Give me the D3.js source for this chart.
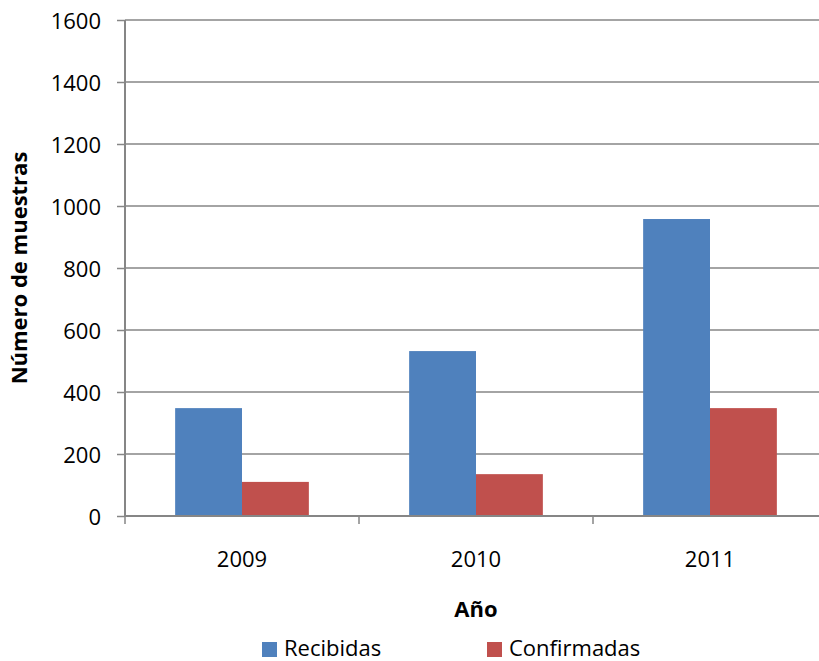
<!DOCTYPE html>
<html>
<head>
<meta charset="utf-8">
<script src="https://cdn.jsdelivr.net/npm/d3@7"></script>
<style>
  html, body { margin: 0; padding: 0; background: #fff; }
  svg { display: block; font-family: "Open Sans", "Noto Sans", sans-serif; }
</style>
</head>
<body>
<svg id="chart" width="819" height="661"></svg>
<script>
// Muestras por año
const years = ["2009", "2010", "2011"];
const recibidas = [348, 532, 958];
const confirmadas = [110, 135, 348];
const yTicks = [0, 200, 400, 600, 800, 1000, 1200, 1400, 1600];
const seriesNames = ["Recibidas", "Confirmadas"];
const seriesColors = ["#4f81bd", "#c0504d"];

const svg = d3.select("#chart");
const W = 819;
const x0 = 125, x1 = 827, yTop = 20, yBot = 516;
const fs = 22;

const x = d3.scaleBand().domain(years).range([x0, x1]).padding(0);
// gap width 150%: each bar = bandwidth / 3.5
const barW = x.bandwidth() / 3.5;
const y = d3.scaleLinear().domain([0, 1600]).range([yBot, yTop]);

const grey = "#868686";

// horizontal gridlines
svg.append("g").selectAll("line").data(yTicks.filter(d => d > 0)).join("line")
  .attr("x1", x0).attr("x2", W)
  .attr("y1", d => y(d)).attr("y2", d => y(d))
  .attr("stroke", grey).attr("stroke-width", 1.5);

// bars
const data = years.map((yr, i) => ({ yr, vals: [recibidas[i], confirmadas[i]] }));
const g = svg.append("g").selectAll("g").data(data).join("g");
g.selectAll("rect").data(d => d.vals.map((v, k) => ({ yr: d.yr, v, k }))).join("rect")
  .attr("x", d => x(d.yr) + x.bandwidth() / 2 - barW + d.k * barW)
  .attr("width", barW)
  .attr("y", d => y(d.v))
  .attr("height", d => y(0) - y(d.v))
  .attr("fill", d => seriesColors[d.k]);

// y axis
const yAxis = d3.axisLeft(y).tickValues(yTicks).tickFormat(d3.format("d"))
  .tickSize(8).tickPadding(16);
const ya = svg.append("g").attr("transform", `translate(${x0},0)`).call(yAxis);
ya.attr("font-family", null).attr("font-size", null);
ya.select(".domain").attr("stroke", grey).attr("stroke-width", 2).attr("d", `M0,${yTop}V${yBot}`);
ya.selectAll(".tick line").attr("stroke", grey).attr("stroke-width", 1.5);
ya.selectAll(".tick text").attr("font-size", fs).attr("fill", "#000").attr("dy", "0.38em");

// x axis
const xa = svg.append("g").attr("transform", `translate(0,${yBot})`);
xa.append("line").attr("x1", x0).attr("x2", W).attr("y1", 0).attr("y2", 0)
  .attr("stroke", grey).attr("stroke-width", 2);
const bounds = years.map(d => x(d)).concat([x1]);
xa.selectAll("line.tk").data(bounds).join("line").attr("class", "tk")
  .attr("x1", d => d).attr("x2", d => d).attr("y1", 0).attr("y2", 8)
  .attr("stroke", grey).attr("stroke-width", 1.5);
xa.selectAll("text").data(years).join("text")
  .attr("x", d => x(d) + x.bandwidth() / 2).attr("y", 51)
  .attr("text-anchor", "middle").attr("font-size", fs).text(d => d);

// axis titles
svg.append("text").attr("transform", "translate(27,268) rotate(-90)")
  .attr("text-anchor", "middle").attr("font-size", fs).attr("font-weight", "bold")
  .text("Número de muestras");
svg.append("text").attr("x", 476).attr("y", 617)
  .attr("text-anchor", "middle").attr("font-size", fs).attr("font-weight", "bold")
  .text("Año");

// legend
const legendX = [262, 487];
const lg = svg.append("g").selectAll("g").data(seriesNames).join("g")
  .attr("transform", (d, i) => `translate(${legendX[i]},642)`);
lg.append("rect").attr("width", 15).attr("height", 15).attr("fill", (d, i) => seriesColors[i]);
lg.append("text").attr("x", 22).attr("y", 14).attr("font-size", fs).text(d => d);
</script>
</body>
</html>
